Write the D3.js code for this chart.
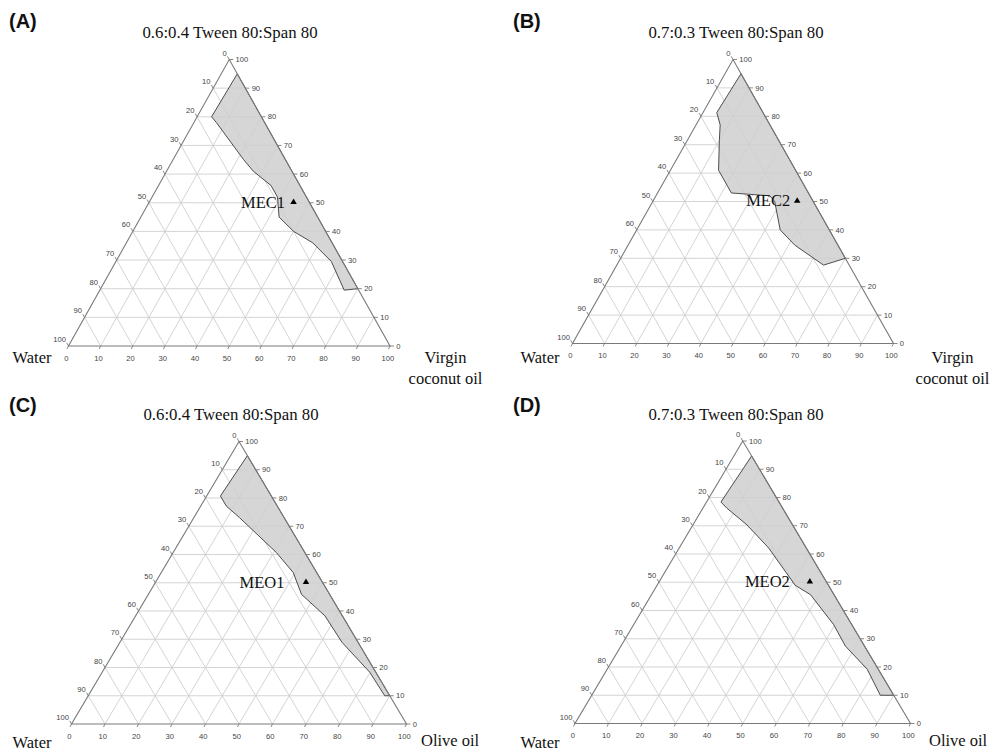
<!DOCTYPE html>
<html>
<head>
<meta charset="utf-8">
<script src="https://cdn.jsdelivr.net/npm/d3@7"></script>
<style>
  html, body { margin: 0; padding: 0; background: #fff; }
  svg { display: block; }
</style>
</head>
<body>
<div id="chart"></div>
<script>
// ---------------- DATA ----------------
const panelLetters = ["(A)", "(B)", "(C)", "(D)"];
const panelTitles = [
  "0.6:0.4 Tween 80:Span 80",
  "0.7:0.3 Tween 80:Span 80",
  "0.6:0.4 Tween 80:Span 80",
  "0.7:0.3 Tween 80:Span 80"
];
const waterLabel = "Water";
const oilLabels = [["Virgin", "coconut oil"], ["Virgin", "coconut oil"], ["Olive oil"], ["Olive oil"]];
const tickValues = [0, 10, 20, 30, 40, 50, 60, 70, 80, 90, 100];

// formulation points: [oil %, Smix %] (water = 100 - oil - Smix)
const formulationNames = ["MEC1", "MEC2", "MEO1", "MEO2"];
const formulationOil = [45, 45, 45, 45];
const formulationSmix = [50, 50, 50, 50];

// microemulsion regions: [oil %, Smix %]
const regionA = [[5, 95], [4.5, 80], [7, 78], [22, 65], [27, 61], [35, 56], [39, 52], [43, 45],
  [50, 40], [58, 36], [67, 29.5], [76, 19.5], [80, 20]];
const regionB = [[5, 95], [4.3, 81.3], [7.5, 77], [10, 71.5], [15, 61], [23, 53], [35.5, 52],
  [38, 50], [40, 47], [44.7, 40], [52, 34.6], [64.4, 27.6], [70, 30]];
const regionC = [[5, 95], [4.1, 80.7], [7.7, 77.1], [13.7, 73], [30.8, 60.7], [39.4, 53.6],
  [45.7, 45.9], [56.5, 38.3], [66.3, 28.9], [79.9, 18.3], [88.5, 10], [90, 10]];
const regionD = [[5.3, 94.7], [4.3, 78.4], [7.2, 76.2], [16.1, 70.3], [26.7, 62.1], [35.7, 53.9],
  [41.2, 48.9], [47.4, 45.6], [59.6, 35], [66.9, 27.4], [77.5, 19.2], [86, 10], [90, 10]];
const regions = [regionA, regionB, regionC, regionD];

// ---------------- LAYOUT ----------------
const W = 991, H = 752;
const layout = [
  { x0: 68.5, x1: 390,   yb: 346,   yt: 59.5, titleX: 230, titleY: 37.5, letterX: 9,   letterY: 28,
    waterX: 51.5, waterY: 363, oilX: 445.5, oilY: 363, oilAnchor: "middle", markLabelGap: 8.5 },
  { x0: 572.5, x1: 893.5, yb: 343.5, yt: 59.5, titleX: 736, titleY: 37.5, letterX: 513, letterY: 28,
    waterX: 559.5, waterY: 362.5, oilX: 952.5, oilY: 362.5, oilAnchor: "middle", markLabelGap: 7 },
  { x0: 71.5, x1: 406.5, yb: 724,   yt: 441.5, titleX: 231, titleY: 419.5, letterX: 9,  letterY: 411.5,
    waterX: 51.5, waterY: 748, oilX: 421, oilY: 746, oilAnchor: "start", markLabelGap: 21.5 },
  { x0: 575,  x1: 910.5, yb: 723.5, yt: 441,   titleX: 736, titleY: 419.5, letterX: 513, letterY: 411.5,
    waterX: 559.5, waterY: 748, oilX: 929, oilY: 746, oilAnchor: "start", markLabelGap: 20 }
];

const serif = "'Liberation Serif', 'Times New Roman', serif";
const sans = "'Liberation Sans', Arial, sans-serif";

const svg = d3.select("#chart").append("svg")
  .attr("width", W).attr("height", H)
  .attr("viewBox", `0 0 ${W} ${H}`);

layout.forEach((L, i) => {
  // scales: horizontal position from (oil + Smix/2), vertical from Smix
  const xs = d3.scaleLinear().domain([0, 100]).range([L.x0, L.x1]);
  const ys = d3.scaleLinear().domain([0, 100]).range([L.yb, L.yt]);
  const px = (oil, smix) => [xs(oil + smix / 2), ys(smix)];

  const g = svg.append("g");

  // panel letter & title
  g.append("text").attr("x", L.letterX).attr("y", L.letterY)
    .attr("font-family", sans).attr("font-weight", "bold").attr("font-size", 20)
    .attr("fill", "#111").text(panelLetters[i]);
  g.append("text").attr("x", L.titleX).attr("y", L.titleY)
    .attr("text-anchor", "middle").attr("font-family", serif).attr("font-size", 16.8)
    .attr("fill", "#111").text(panelTitles[i]);

  // shaded region (fill)
  const line = d3.line().x(d => px(d[0], d[1])[0]).y(d => px(d[0], d[1])[1]).curve(d3.curveLinearClosed);
  g.append("path").datum(regions[i]).attr("d", line)
    .attr("fill", "#d6d6d6").attr("stroke", "none");

  // grid lines
  const inner = tickValues.filter(v => v > 0 && v < 100);
  const grid = g.append("g").attr("stroke", "#cfcfcf").attr("stroke-width", 0.9).attr("fill", "none");
  inner.forEach(v => {
    // constant Smix (horizontal)
    let a = px(0, v), b = px(100 - v, v);
    grid.append("line").attr("x1", a[0]).attr("y1", a[1]).attr("x2", b[0]).attr("y2", b[1]);
    // constant oil
    a = px(v, 0); b = px(v, 100 - v);
    grid.append("line").attr("x1", a[0]).attr("y1", a[1]).attr("x2", b[0]).attr("y2", b[1]);
    // constant water
    a = px(100 - v, 0); b = px(0, 100 - v);
    grid.append("line").attr("x1", a[0]).attr("y1", a[1]).attr("x2", b[0]).attr("y2", b[1]);
  });

  // region outline
  g.append("path").datum(regions[i]).attr("d", line)
    .attr("fill", "none").attr("stroke", "#3a3a3a").attr("stroke-width", 0.9)
    .attr("stroke-linejoin", "round");

  // triangle frame
  const tri = [px(0, 0), px(100, 0), px(0, 100)];
  g.append("path").attr("d", d3.line()(tri) + "Z")
    .attr("fill", "none").attr("stroke", "#7a7a7a").attr("stroke-width", 1.1);

  // ticks and tick labels
  const tk = g.append("g").attr("stroke", "#7a7a7a").attr("stroke-width", 0.9);
  const tl = g.append("g").attr("font-family", sans).attr("font-size", 7.6).attr("fill", "#444");
  tickValues.forEach(v => {
    // left axis: water %, 0 at apex -> 100 at bottom-left
    let p = px(0, 100 - v);
    tk.append("line").attr("x1", p[0]).attr("y1", p[1]).attr("x2", p[0] - 1.8).attr("y2", p[1] - 3.2);
    tl.append("text").attr("x", p[0] - 2.6).attr("y", p[1] - 6.6).attr("dy", "0.35em")
      .attr("text-anchor", "end").text(v);
    // right axis: Smix %, horizontal ticks
    p = px(100 - v, v);
    tk.append("line").attr("x1", p[0]).attr("y1", p[1]).attr("x2", p[0] + 4).attr("y2", p[1]);
    tl.append("text").attr("x", p[0] + 6.3).attr("y", p[1]).attr("dy", "0.35em")
      .attr("text-anchor", "start").text(v);
    // bottom axis: oil %
    p = px(v, 0);
    tk.append("line").attr("x1", p[0]).attr("y1", p[1]).attr("x2", p[0] - 1.5).attr("y2", p[1] + 3);
    tl.append("text").attr("x", p[0] - 2.2).attr("y", p[1] + 12.2).attr("dy", "0.35em")
      .attr("text-anchor", "middle").text(v);
  });

  // vertex labels
  g.append("text").attr("x", L.waterX).attr("y", L.waterY)
    .attr("text-anchor", "end").attr("font-family", serif).attr("font-size", 16.5)
    .attr("fill", "#111").text(waterLabel);
  oilLabels[i].forEach((t, k) => {
    g.append("text").attr("x", L.oilX).attr("y", L.oilY + k * 21)
      .attr("text-anchor", L.oilAnchor).attr("font-family", serif).attr("font-size", 16.5)
      .attr("fill", "#111").text(t);
  });

  // formulation point
  const m = px(formulationOil[i], formulationSmix[i]);
  g.append("path").attr("d", d3.symbol(d3.symbolTriangle, 18)())
    .attr("transform", `translate(${m[0]},${m[1] - 0.5})`).attr("fill", "#000");
  g.append("text").attr("x", m[0] - L.markLabelGap).attr("y", m[1] + 4.8)
    .attr("text-anchor", "end").attr("font-family", serif).attr("font-size", 16.5)
    .attr("fill", "#111").text(formulationNames[i]);
});
</script>
</body>
</html>
